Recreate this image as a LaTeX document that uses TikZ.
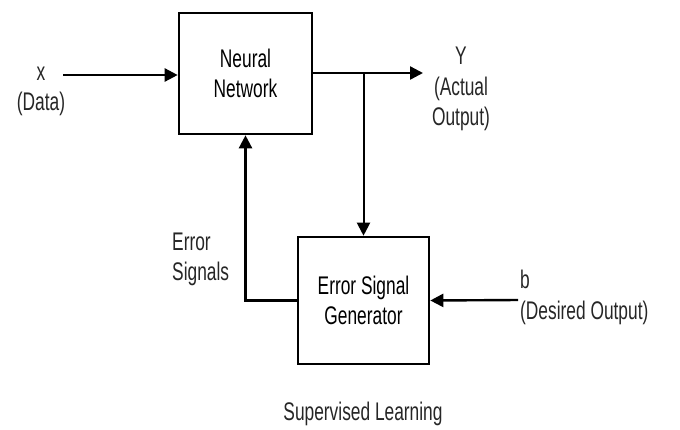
\documentclass[tikz,border=0pt]{standalone}
\usepackage{fontspec}
\setmainfont[FakeStretch=0.68]{Liberation Sans}
\usepackage{tikz}
\usetikzlibrary{arrows.meta, calc, positioning}

\tikzstyle{block} = [rectangle, draw=black, line width=2.6pt, align=center, inner sep=0pt]
\tikzstyle{lbl} = [inner sep=0pt, text=black!85]
\tikzstyle{arrow} = [line width=2.4pt, -{Triangle[length=13pt,width=13pt]}]

\begin{document}
\begin{tikzpicture}[x=1pt, y=1pt,
    every node/.style={font=\fontsize{25.5}{30.5}\selectfont}]

        \useasboundingbox (0,0) rectangle (680,-429) ;

        % the two blocks
        \node (nn) [block, minimum width=133pt, minimum height=121pt]
            at (245.5,-73.5) {Neural\\Network} ;
        \node (esg) [block, minimum width=131pt, minimum height=127pt]
            at (363.5,-300.5) {Error Signal\\Generator} ;

        % free ends of the outer arrows
        \coordinate (xstart) at (63,-75) ;
        \coordinate (yend) at (423,-73) ;
        \coordinate (bstart) at (518,-300) ;

        % labels
        \node (xlbl) [lbl, align=center] at (41,-91.5) {x\\(Data)} ;
        \node (ylbl) [lbl, align=center] at (461,-89) {Y\\(Actual\\Output)} ;
        \node (elbl) [lbl, align=left, anchor=west] at (172,-259.5)
            {Error\\Signals} ;
        \node (blbl) [lbl, align=left, anchor=west] at (520,-297.5)
            {b\\(Desired Output)} ;
        \node (title) [lbl] at (363,-414) {Supervised Learning} ;

        % arrows
        \draw [arrow] (xstart) -- (xstart -| nn.west) ;
        \draw [arrow] (nn.east |- yend) -- (yend) ;
        \draw [arrow, line width=2pt] (esg.north |- yend) -- (esg.north) ;
        \draw [arrow] (esg.west) -| (nn.south) ;
        \draw [arrow] (bstart) -- (esg.east) ;

    \end{tikzpicture}
\end{document}
